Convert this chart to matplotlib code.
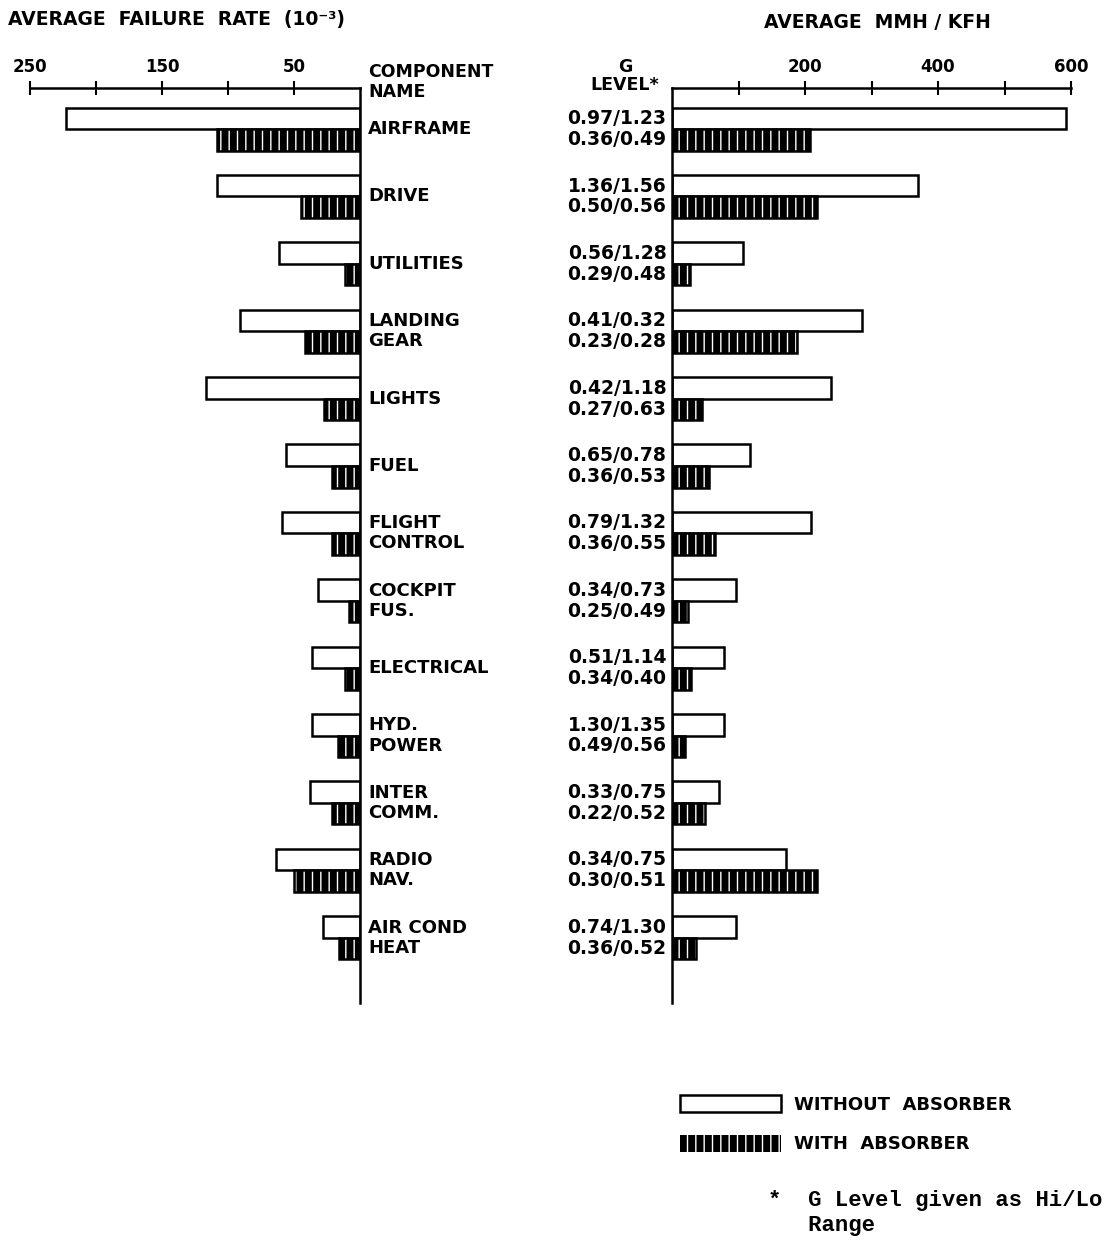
import numpy as np
import matplotlib
matplotlib.use("Agg")
import matplotlib.pyplot as plt

plt.rcParams['font.family'] = ['DejaVu Sans']
plt.rcParams['font.weight'] = 'bold'
plt.rcParams['hatch.linewidth'] = 1.0

# data
componentes = ["AIRFRAME", "DRIVE", "UTILITIES", "LANDING\nGEAR", "LIGHTS", "FUEL",
               "FLIGHT\nCONTROL", "COCKPIT\nFUS.", "ELECTRICAL", "HYD.\nPOWER",
               "INTER\nCOMM.", "RADIO\nNAV.", "AIR COND\nHEAT"]

g_sin = ["0.97/1.23", "1.36/1.56", "0.56/1.28", "0.41/0.32", "0.42/1.18", "0.65/0.78",
         "0.79/1.32", "0.34/0.73", "0.51/1.14", "1.30/1.35", "0.33/0.75", "0.34/0.75",
         "0.74/1.30"]
g_con = ["0.36/0.49", "0.50/0.56", "0.29/0.48", "0.23/0.28", "0.27/0.63", "0.36/0.53",
         "0.36/0.55", "0.25/0.49", "0.34/0.40", "0.49/0.56", "0.22/0.52", "0.30/0.51",
         "0.36/0.52"]

# average failure rate (10^-3)
fallo_sin = [223, 108, 61, 91, 117, 56, 59, 32, 36, 36, 38, 64, 28]
fallo_con = [108, 45, 11, 42, 27, 21, 21, 8, 11, 17, 21, 50, 16]

# average MMH / KFH
mmh_sin = [592, 370, 107, 286, 239, 117, 209, 96, 78, 78, 71, 171, 96]
mmh_con = [207, 218, 27, 188, 45, 56, 65, 24, 29, 20, 50, 218, 36]

y = np.arange(len(componentes))
h = 0.32

fig = plt.figure(figsize=(11.08, 12.43), dpi=100)
W, H = 1108, 1243
bottom = (H - 1003) / H
alto = (1003 - 88) / H
ax1 = fig.add_axes([30 / W, bottom, 330 / W, alto])
ax2 = fig.add_axes([672 / W, bottom, 399 / W, alto])


def barras(ax, sin, con):
    b1 = ax.barh(y - h / 2, sin, height=h, color="white", edgecolor="black", linewidth=1.8)
    b2 = ax.barh(y + h / 2, con, height=h, color="black", edgecolor="white",
                 hatch="||", linewidth=0)
    ax.barh(y + h / 2, con, height=h, fill=False, edgecolor="black", linewidth=1.8)
    ax.set_ylim(12.97, -0.61)
    ax.set_yticks([])
    ax.xaxis.tick_top()
    ax.tick_params(axis="x", direction="inout", length=10, width=1.5, pad=4, labelsize=12)
    for lado in ax.spines:
        ax.spines[lado].set_linewidth(1.8)
    ax.spines["bottom"].set_visible(False)
    return b1, b2


barras(ax1, fallo_sin, fallo_con)
ax1.set_xlim(250, 0)
ax1.set_xticks([250, 200, 150, 100, 50])
ax1.set_xticklabels(["250", "", "150", "", "50"])
ax1.spines["left"].set_visible(False)

b1, b2 = barras(ax2, mmh_sin, mmh_con)
ax2.set_xlim(0, 600)
ax2.set_xticks([100, 200, 300, 400, 500, 600])
ax2.set_xticklabels(["", "200", "", "400", "", "600"])
ax2.spines["right"].set_visible(False)

for i in range(len(componentes)):
    ax1.annotate(componentes[i], xy=(0, y[i]), xytext=(6, 0), textcoords="offset points",
                 ha="left", va="center", fontsize=13, linespacing=1.15)
    ax2.annotate(g_sin[i], xy=(0, y[i] - 0.155), xytext=(-4, 0), textcoords="offset points",
                 ha="right", va="center", fontsize=13.5)
    ax2.annotate(g_con[i], xy=(0, y[i] + 0.155), xytext=(-4, 0), textcoords="offset points",
                 ha="right", va="center", fontsize=13.5)

fig.text(8 / W, 1 - 20 / H, "AVERAGE  FAILURE  RATE  (10⁻³)", ha="left", va="center",
         fontsize=13.5)
fig.text(877 / W, 1 - 23 / H, "AVERAGE  MMH / KFH", ha="center", va="center", fontsize=13.5)
fig.text(368 / W, 1 - 82 / H, "COMPONENT\nNAME", ha="left", va="center", fontsize=12.5,
         linespacing=1.1)
fig.text(625 / W, 1 - 76 / H, "G\nLEVEL*", ha="center", va="center", fontsize=12.5,
         multialignment="center", linespacing=0.95)

fig.legend([b1, b2], ["WITHOUT  ABSORBER", "WITH  ABSORBER"], loc="upper left",
           bbox_to_anchor=(680 / W, 1 - 1095 / H), frameon=False, fontsize=13,
           handlelength=5.6, handleheight=1.1, labelspacing=1.15, handletextpad=0.7,
           borderpad=0, borderaxespad=0)

fig.text(768 / W, 1 - 1213 / H, "*  G Level given as Hi/Lo\n   Range", ha="left", va="center",
         fontsize=16, family="Liberation Mono", weight="bold", linespacing=1.3)

plt.savefig("out.png", dpi=100)
